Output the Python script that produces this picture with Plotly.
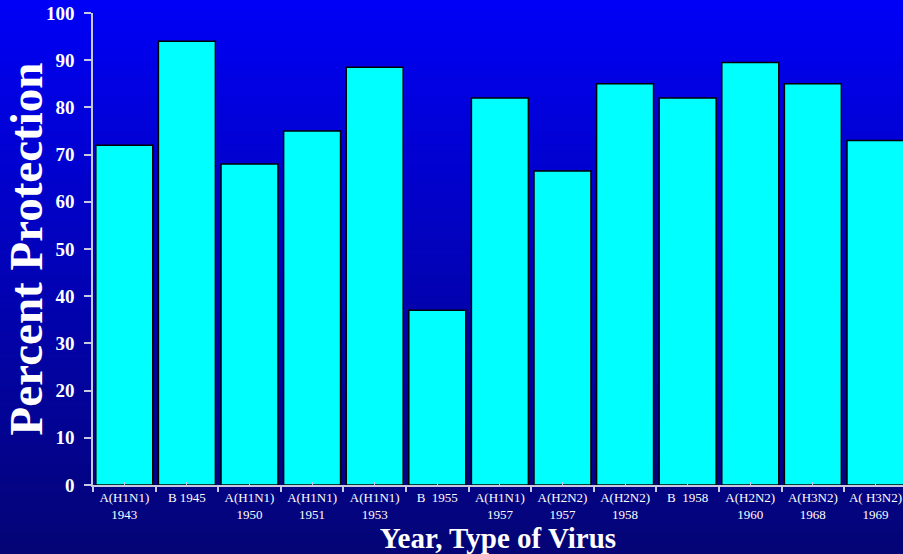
import plotly.graph_objects as go

categories = ["A(H1N1)<br>1943", "B 1945", "A(H1N1)<br>1950", "A(H1N1)<br>1951",
              "A(H1N1)<br>1953", "B  1955", "A(H1N1)<br>1957", "A(H2N2)<br>1957",
              "A(H2N2)<br>1958", "B  1958", "A(H2N2)<br>1960", "A(H3N2)<br>1968",
              "A( H3N2)<br>1969"]
protection = [72, 94, 68, 75, 88.5, 37, 82, 66.5, 85, 82, 89.5, 85, 73]
y_ticks = [0, 10, 20, 30, 40, 50, 60, 70, 80, 90, 100]

W, H = 903, 554
ML, MR, MT, MB = 93, 0, 13, 69
pw = W - ML - MR
ph = H - MT - MB

# background gradient bands (paper coords)
shapes = []
n = 80
y_top = (H - MB) / ph          # page top in paper coords
y_bot = -MB / ph               # page bottom in paper coords
c0 = (0, 0, 246)
c1 = (4, 4, 118)
for i in range(n):
    t = i / (n - 1)
    col = tuple(round(c0[k] + (c1[k] - c0[k]) * t) for k in range(3))
    ya = y_top - (y_top - y_bot) * i / n
    yb = y_top - (y_top - y_bot) * (i + 1) / n
    shapes.append(dict(type="rect", xref="paper", yref="paper",
                       x0=-ML / pw - 0.01, x1=1.01, y0=yb - 0.002, y1=ya + 0.002,
                       fillcolor="rgb(%d,%d,%d)" % col, line=dict(width=0),
                       layer="below"))

fig = go.Figure()
fig.add_trace(go.Bar(x=categories, y=protection, marker=dict(color="#00ffff",
                     line=dict(color="#000000", width=1.5)), hoverinfo="skip"))
fig.add_trace(go.Scatter(x=categories, y=protection, xaxis="x2", mode="markers",
                         marker=dict(opacity=0), hoverinfo="skip", showlegend=False))

cat_span = 12.94
fig.update_layout(
    width=W, height=H,
    margin=dict(l=ML, r=MR, t=MT, b=MB, pad=0),
    paper_bgcolor="rgb(4,4,118)",
    plot_bgcolor="rgba(0,0,0,0)",
    shapes=shapes,
    bargap=0.09,
    showlegend=False,
    font=dict(family="Liberation Serif", color="white"),
    xaxis=dict(type="category", range=[-0.5, -0.5 + cat_span], showline=True,
               linecolor="#c8c8e0", linewidth=1.5, ticks="outside", ticklen=5,
               tickcolor="#c8c8e0", tickwidth=1.5, tickson="boundaries",
               tickfont=dict(size=13, color="white", family="Liberation Serif"),
               showgrid=False, zeroline=False,
               title=dict(text="<b>Year, Type of Virus</b>", standoff=10,
                          font=dict(size=29, color="white", family="Liberation Serif"))),
    xaxis2=dict(type="category", overlaying="x", anchor="y", side="bottom",
                range=[-0.5, -0.5 + cat_span], ticks="inside", ticklen=3,
                tickcolor="#c8c8e0", tickwidth=1, showticklabels=False,
                showgrid=False, zeroline=False, showline=False),
    yaxis=dict(range=[0, 100], tickvals=y_ticks, showline=True, linecolor="#c8c8e0",
               linewidth=1.5, ticks="outside", ticklen=7, tickcolor="#c8c8e0",
               tickwidth=1.5, showgrid=False, zeroline=False, ticklabelstandoff=6,
               tickfont=dict(size=19, color="white", family="Liberation Serif", weight="bold"),
               title=dict(text="<b>Percent Protection</b>", standoff=4,
                          font=dict(size=47, color="white", family="Liberation Serif"))),
)

fig.write_html("out.html")
